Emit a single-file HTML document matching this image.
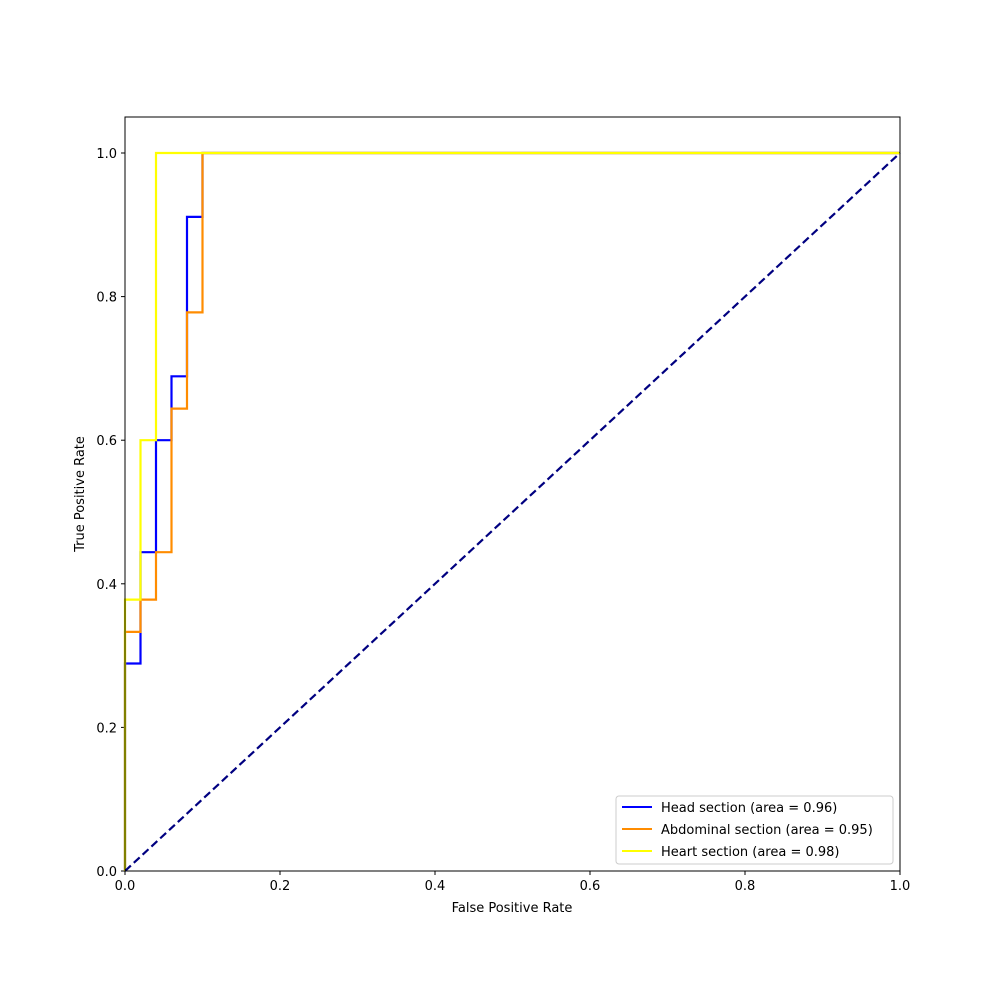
<!DOCTYPE html>
<html><head><meta charset="utf-8"><style>
body{margin:0;background:#fff;}
svg text{font-family:"DejaVu Sans","Liberation Sans",sans-serif;font-size:13px;fill:#000;}
</style></head><body>
<svg id="chart" width="1000" height="978" xmlns="http://www.w3.org/2000/svg">
<rect x="0" y="0" width="1000" height="978" fill="#fff"/>
<g id="ticks"></g>
<g id="series"></g>
<rect x="125" y="117" width="775" height="754" fill="none" stroke="#000" stroke-width="1"/>
<text x="512" y="912" text-anchor="middle">False Positive Rate</text>
<text transform="translate(84,494) rotate(-90)" text-anchor="middle">True Positive Rate</text>
<g>
<rect x="616" y="796" width="277" height="68" rx="3" fill="#fff" stroke="#ccc"/>
<line x1="622" y1="807" x2="652" y2="807" stroke="#0000ff" stroke-width="2"/>
<text x="661" y="812">Head section (area = 0.96)</text>
<line x1="622" y1="829" x2="652" y2="829" stroke="#ff8c00" stroke-width="2"/>
<text x="661" y="834">Abdominal section (area = 0.95)</text>
<line x1="622" y1="851" x2="652" y2="851" stroke="#ffff00" stroke-width="2"/>
<text x="661" y="856">Heart section (area = 0.98)</text>
</g>
</svg>
<script>
const xTicks=[0,0.2,0.4,0.6,0.8,1.0];
const yTicks=[0,0.2,0.4,0.6,0.8,1.0];
const headX=[0,0,0.02,0.02,0.04,0.04,0.06,0.06,0.08,0.08,0.1,0.1,1];
const headY=[0,0.289,0.289,0.444,0.444,0.6,0.6,0.689,0.689,0.911,0.911,1,1];
const abdX=[0,0,0.02,0.02,0.04,0.04,0.06,0.06,0.08,0.08,0.1,0.1,1];
const abdY=[0,0.333,0.333,0.378,0.378,0.444,0.444,0.644,0.644,0.778,0.778,1,1];
const heartX=[0,0,0.02,0.02,0.04,0.04,1];
const heartY=[0,0.378,0.378,0.6,0.6,1,1];
const diagX=[0,1];
const diagY=[0,1];
const sx=v=>125+v*775;
const sy=v=>871-v*718;
const NS='http://www.w3.org/2000/svg';
const tg=document.getElementById('ticks');
xTicks.forEach(t=>{
  const l=document.createElementNS(NS,'line');
  l.setAttribute('x1',sx(t));l.setAttribute('x2',sx(t));l.setAttribute('y1',871);l.setAttribute('y2',875);l.setAttribute('stroke','#000');
  
  
  tg.appendChild(l);
  const tx=document.createElementNS(NS,'text');
  tx.setAttribute('x',sx(t));tx.setAttribute('y',890);tx.setAttribute('text-anchor','middle');
  tx.textContent=t.toFixed(1);
  
  
  tg.appendChild(tx);
});
yTicks.forEach(t=>{
  const l=document.createElementNS(NS,'line');
  l.setAttribute('x1',121);l.setAttribute('x2',125);l.setAttribute('y1',sy(t));l.setAttribute('y2',sy(t));l.setAttribute('stroke','#000');
  
  
  tg.appendChild(l);
  const tx=document.createElementNS(NS,'text');
  tx.setAttribute('x',117);tx.setAttribute('y',sy(t)+5);tx.setAttribute('text-anchor','end');
  tx.textContent=t.toFixed(1);
  
  
  tg.appendChild(tx);
});
const sg=document.getElementById('series');
function line(xs,ys,color,name,dash){
  const p=document.createElementNS(NS,'polyline');
  p.setAttribute('points',xs.map((x,i)=>sx(x)+','+sy(ys[i])).join(' '));
  p.setAttribute('fill','none');p.setAttribute('stroke',color);p.setAttribute('stroke-width',2.2);
  if(dash)p.setAttribute('stroke-dasharray',dash);
  
  
  sg.appendChild(p);
}
line(headX,headY,'#0000ff','head-roc-line');
line(abdX,abdY,'#ff8c00','abdominal-roc-line');
line(heartX,heartY,'#ffff00','heart-roc-line');
line(diagX,diagY,'#000080','chance-diagonal','8,4');
</script>
</body></html>
